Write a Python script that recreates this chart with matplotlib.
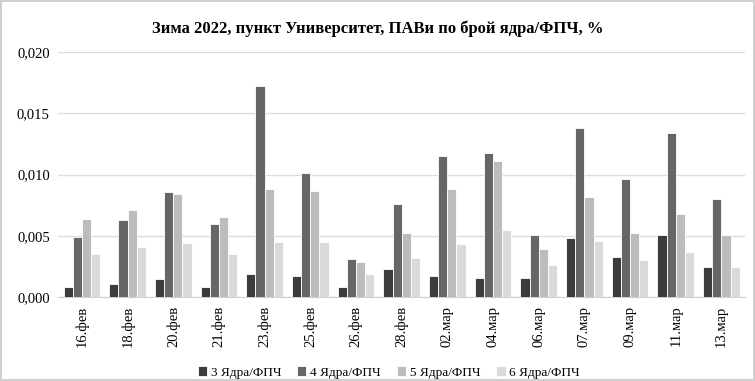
import numpy as np
import matplotlib.pyplot as plt

# data
dates = ["16.фев", "18.фев", "20.фев", "21.фев", "23.фев", "25.фев", "26.фев", "28.фев",
         "02.мар", "04.мар", "06.мар", "07.мар", "09.мар", "11.мар", "13.мар"]
s3 = [0.0008, 0.0011, 0.0015, 0.0008, 0.0019, 0.0017, 0.0008, 0.0023,
      0.0017, 0.0016, 0.0016, 0.0048, 0.0033, 0.0051, 0.0025]
s4 = [0.0049, 0.0063, 0.0086, 0.0060, 0.0172, 0.0101, 0.0031, 0.0076,
      0.0115, 0.0118, 0.0051, 0.0138, 0.0096, 0.0134, 0.0080]
s5 = [0.0064, 0.0071, 0.0084, 0.0065, 0.0088, 0.0087, 0.0029, 0.0052,
      0.0088, 0.0111, 0.0039, 0.0082, 0.0052, 0.0068, 0.0051]
s6 = [0.0035, 0.0041, 0.0044, 0.0035, 0.0045, 0.0045, 0.0019, 0.0032,
      0.0043, 0.0055, 0.0026, 0.0046, 0.0030, 0.0037, 0.0025]
names = ["3 Ядра/ФПЧ", "4 Ядра/ФПЧ", "5 Ядра/ФПЧ", "6 Ядра/ФПЧ"]
colors = ["#3c3c3c", "#666666", "#bcbcbc", "#dadada"]

plt.rcParams['font.family'] = ['Liberation Serif', 'DejaVu Serif']

fig = plt.figure(figsize=(7.55, 3.81), dpi=100)
fig.patch.set_edgecolor('#d0d0d0')
fig.patch.set_linewidth(1.5)
ax = fig.add_axes([0.077, 0.22, 0.91, 0.6435])

x = np.arange(len(dates))
w = 0.2
for i, s in enumerate([s3, s4, s5, s6]):
    ax.bar(x + (i - 1.5) * w, s, width=w, color=colors[i], edgecolor='white',
           linewidth=0.6, label=names[i], zorder=3)

ax.set_xlim(-0.52, len(dates) - 0.48)
ax.set_ylim(0, 0.020)
ax.set_yticks([0, 0.005, 0.010, 0.015, 0.020])
ax.set_yticklabels(["0,000", "0,005", "0,010", "0,015", "0,020"], fontsize=10.5)
ax.set_xticks(x)
ax.set_xticklabels(dates, rotation=90, fontsize=10.5)
ax.tick_params(length=0, pad=6)
ax.grid(axis='y', color='#dcdcdc', linewidth=1, zorder=0)
for sp in ['top', 'right', 'left']:
    ax.spines[sp].set_visible(False)
ax.spines['bottom'].set_color('#d0d0d0')

fig.suptitle("Зима 2022, пункт Университет, ПАВи по брой ядра/ФПЧ, %",
             fontsize=12, fontweight='bold', y=0.945)
fig.legend(loc='lower center', ncol=4, frameon=False, fontsize=9.5,
           bbox_to_anchor=(0.515, -0.025), handlelength=0.7, handleheight=0.7,
           handletextpad=0.3, columnspacing=1.2)

plt.savefig('out.png', dpi=100, edgecolor=fig.get_edgecolor())
